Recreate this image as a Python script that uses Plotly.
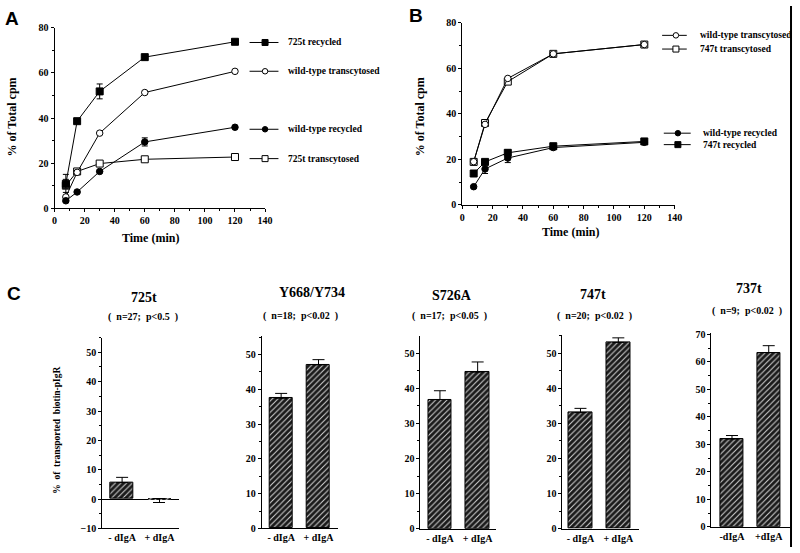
import plotly.graph_objects as go

W, H = 800, 553
def fx(p): return p / W
def fy(p): return 1 - p / H

# ---------------- data ----------------
time_min = [7.5, 15, 30, 60, 120]

# Panel A
a_725t_recycled = [10.8, 38.6, 51.8, 67.0, 73.8]
a_725t_recycled_err = [2.0, 0.0, 3.3, 0.0, 0.0]
a_wt_transcytosed = [5.0, 15.9, 33.3, 51.3, 60.7]
a_wt_transcytosed_err = [2.0, 0.0, 0.0, 0.0, 0.0]
a_wt_recycled = [3.3, 7.2, 16.3, 29.4, 35.9]
a_wt_recycled_err = [0.5, 0.0, 0.0, 1.8, 0.0]
a_725t_transcytosed = [10.0, 16.3, 19.8, 21.7, 22.7]
a_725t_transcytosed_err = [5.0, 0.0, 0.0, 0.0, 0.0]

# Panel B
b_wt_transcytosed = [19.0, 35.4, 55.6, 66.4, 70.5]
b_747t_transcytosed = [18.9, 36.0, 54.2, 66.4, 70.5]
b_wt_recycled = [8.0, 15.8, 20.6, 25.2, 27.5]
b_wt_recycled_err = [0.5, 2.0, 2.0, 0.8, 0.8]
b_747t_recycled = [13.8, 18.9, 22.9, 25.8, 27.9]
b_747t_recycled_err = [0.5, 0.8, 1.2, 1.0, 0.8]

# Panel C
c_groups = ["725t", "Y668/Y734", "S726A", "747t", "737t"]
c_stats = ["n=27;  p&lt;0.5", "n=18;  p&lt;0.02", "n=17;  p&lt;0.05", "n=20;  p&lt;0.02", "n=9;  p&lt;0.02"]
c_minus = [5.6, 37.4, 36.8, 33.1, 31.9]
c_plus = [0.3, 47.0, 44.6, 53.1, 63.4]
c_minus_err = [1.8, 1.4, 2.5, 1.2, 1.3]
c_plus_err = [1.4, 1.5, 2.9, 1.3, 2.5]
c_plus_err_down = [True, False, False, False, False]
c_ticklabels = [["- dIgA", "+ dIgA"]] * 4 + [["-dIgA", "+dIgA"]]

# ---------------- figure ----------------
fig = go.Figure()
SERIF = "Liberation Serif"
SANS = "Liberation Sans"
tickf = dict(family=SERIF, size=10, color="black", weight="bold")

def line_trace(x, y, err, symbol, xa, ya, fill=True):
    return go.Scatter(
        x=x, y=y, mode="lines+markers", xaxis=xa, yaxis=ya,
        line=dict(color="black", width=1),
        marker=dict(symbol=symbol, size=7 if symbol == "square" else 6.5,
                    color="black" if fill else "white",
                    line=dict(color="black", width=1)),
        error_y=dict(type="data", array=err, visible=err is not None,
                     color="black", thickness=1, width=3),
        showlegend=False, hoverinfo="skip")

# Panel A
fig.add_trace(line_trace(time_min, a_725t_transcytosed, a_725t_transcytosed_err, "square", "x", "y", False))
fig.add_trace(line_trace(time_min, a_wt_transcytosed, a_wt_transcytosed_err, "circle", "x", "y", False))
fig.add_trace(line_trace(time_min, a_wt_recycled, a_wt_recycled_err, "circle", "x", "y"))
fig.add_trace(line_trace(time_min, a_725t_recycled, a_725t_recycled_err, "square", "x", "y"))

# Panel B
fig.add_trace(line_trace(time_min, b_wt_recycled, b_wt_recycled_err, "circle", "x2", "y2"))
fig.add_trace(line_trace(time_min, b_747t_recycled, b_747t_recycled_err, "square", "x2", "y2"))
fig.add_trace(line_trace(time_min, b_747t_transcytosed, None, "square", "x2", "y2", False))
fig.add_trace(line_trace(time_min, b_wt_transcytosed, None, "circle", "x2", "y2", False))

def axis_common():
    return dict(showline=True, linecolor="black", linewidth=1, showgrid=False,
                zeroline=False, ticks="outside", ticklen=3, tickcolor="black",
                tickfont=tickf)

layout = dict(width=W, height=H, margin=dict(l=0, r=0, t=0, b=0),
              paper_bgcolor="white", plot_bgcolor="rgba(0,0,0,0)", showlegend=False)

# A axes
layout["xaxis"] = dict(axis_common(), domain=[fx(52.3), fx(265.7)], range=[0, 140], anchor="y",
                       tickvals=[0, 20, 40, 60, 80, 100, 120, 140],
                       minor=dict(ticks="outside", ticklen=2, dtick=10, tickcolor="black"))
layout["yaxis"] = dict(axis_common(), domain=[fy(206.7), fy(22.3)], range=[0, 80], anchor="x",
                       tickvals=[0, 20, 40, 60, 80],
                       minor=dict(ticks="outside", ticklen=2, dtick=10, tickcolor="black"))
# B axes
layout["xaxis2"] = dict(axis_common(), domain=[fx(465.7), fx(681)], range=[0, 140], anchor="y2",
                        tickvals=[0, 20, 40, 60, 80, 100, 120, 140],
                        minor=dict(ticks="outside", ticklen=2, dtick=10, tickcolor="black"))
layout["yaxis2"] = dict(axis_common(), domain=[fy(203.3), fy(17.3)], range=[0, 80], anchor="x2",
                        tickvals=[0, 20, 40, 60, 80],
                        minor=dict(ticks="outside", ticklen=2, dtick=10, tickcolor="black"))

# C axes geometry (pixel domains, ranges)
c_xdom = [(100.7, 178.3), (262.3, 340.0), (423.3, 500.0), (567.3, 645.0), (718.3, 798.0)]
c_xrange = [(-0.53, 1.52), (-0.52, 1.53), (-0.516, 1.49), (-0.475, 1.55), (-0.56, 1.58)]
c_ydom = [(339.0, 534.0), (337.3, 534.0), (337.3, 534.3), (336.7, 534.3), (334.3, 532.3)]
c_yrange = [(-10, 55), (0, 55.3), (0, 54.9), (0, 55.1), (0, 70.5)]
c_ytick = [[-10, 0, 10, 20, 30, 40, 50], [0, 10, 20, 30, 40, 50], [0, 10, 20, 30, 40, 50],
           [0, 10, 20, 30, 40, 50], [0, 10, 20, 30, 40, 50, 60, 70]]

pattern = dict(shape="/", fgcolor="#cfcfcf", bgcolor="#1a1a1a", size=4, solidity=0.27, fillmode="replace")

for i in range(5):
    xa, ya = f"x{i+3}", f"y{i+3}"
    fig.add_trace(go.Bar(x=[0], y=[c_minus[i]], width=0.62, xaxis=xa, yaxis=ya,
                         marker=dict(color="#262626", pattern=pattern, line=dict(color="black", width=1)),
                         error_y=dict(type="data", symmetric=False, array=[c_minus_err[i]], arrayminus=[0],
                                      color="black", thickness=1, width=6),
                         hoverinfo="skip"))
    up = 0 if c_plus_err_down[i] else c_plus_err[i]
    dn = c_plus_err[i] if c_plus_err_down[i] else 0
    fig.add_trace(go.Bar(x=[1], y=[c_plus[i]], width=0.62, xaxis=xa, yaxis=ya,
                         marker=dict(color="#262626", pattern=pattern, line=dict(color="black", width=1 if c_plus[i] > 1 else 0)),
                         error_y=dict(type="data", symmetric=False, array=[up], arrayminus=[dn],
                                      color="black", thickness=1, width=6),
                         hoverinfo="skip"))
    layout[f"xaxis{i+3}"] = dict(axis_common(), domain=[fx(c_xdom[i][0]), fx(c_xdom[i][1])],
                                 range=list(c_xrange[i]), anchor=ya, ticks="",
                                 tickvals=[0, 1], ticktext=c_ticklabels[i],
                                 tickfont=dict(family=SERIF, size=10, color="black", weight="bold"))
    layout[f"yaxis{i+3}"] = dict(axis_common(), domain=[fy(c_ydom[i][1]), fy(c_ydom[i][0])],
                                 range=list(c_yrange[i]), anchor=xa, tickvals=c_ytick[i],
                                 zeroline=(i == 0), zerolinecolor="black", zerolinewidth=1,
                                 minor=dict(ticks="outside", ticklen=2, dtick=5, tickcolor="black"))

# overlay pixel axis for legend glyphs
layout["xaxis8"] = dict(domain=[0, 1], range=[0, W], visible=False, fixedrange=True, anchor="y8")
layout["yaxis8"] = dict(domain=[0, 1], range=[H, 0], visible=False, fixedrange=True, anchor="x8")

legend_items = [
    # (x0, x1, xm, y, symbol, filled, label, textx)
    (250, 279.3, 265.7, 37.3, "square", True, "725t recycled", 286.7),
    (250, 279.3, 265.7, 66.7, "circle", False, "wild-type transcytosed", 286.7),
    (250, 279.3, 265.7, 126.0, "circle", True, "wild-type recycled", 286.7),
    (250, 279.3, 265.7, 156.0, "square", False, "725t transcytosed", 286.7),
    (668.3, 693.3, 682.3, 30.0, "circle", False, "wild-type transcytosed", 705.0),
    (668.3, 693.3, 682.3, 44.0, "square", False, "747t transcytosed", 705.0),
    (670.0, 697.3, 684.3, 130.0, "circle", True, "wild-type recycled", 707.7),
    (670.0, 697.3, 684.3, 141.7, "square", True, "747t recycled", 707.7),
]
annotations = []
for x0, x1, xm, y, sym, filled, label, tx in legend_items:
    fig.add_trace(go.Scatter(x=[x0, x1], y=[y, y], mode="lines", xaxis="x8", yaxis="y8",
                             line=dict(color="black", width=1), hoverinfo="skip"))
    fig.add_trace(go.Scatter(x=[xm], y=[y], mode="markers", xaxis="x8", yaxis="y8",
                             marker=dict(symbol=sym, size=6 if sym == "square" else 5.5,
                                         color="black" if filled else "white",
                                         line=dict(color="black", width=1)), hoverinfo="skip"))
    annotations.append(dict(x=fx(tx), y=fy(y), xref="paper", yref="paper", text=label,
                            showarrow=False, xanchor="left", yanchor="middle",
                            font=dict(family=SERIF, size=9.5, color="black", weight="bold")))

def txt(x, y, s, size, family=SERIF, angle=0):
    annotations.append(dict(x=fx(x), y=fy(y), xref="paper", yref="paper", text=s, showarrow=False,
                            xanchor="center", yanchor="middle", textangle=angle,
                            font=dict(family=family, size=size, color="black", weight="bold")))

txt(9, 12.5, "A", 19, SANS)
txt(419, 10, "B", 19, SANS)
txt(11, 293.5, "C", 19, SANS)
txt(9, 113, "% of Total cpm", 12, angle=-90)
txt(423, 113.5, "% of Total cpm", 12, angle=-90)
txt(150, 237, "Time (min)", 12)
txt(575, 230.7, "Time (min)", 12)
txt(54, 434, "%\u00a0 of\u00a0 transported\u00a0 biotin-pIgR", 9.5, angle=-90)

c_title_pos = [(143.3, 298.3), (313, 293.3), (455, 295.7), (598.3, 295), (756.7, 289)]
c_stat_pos = [(141.7, 317.7), (302, 317.3), (453, 317.3), (600, 317.3), (754.3, 311.7)]
for i in range(5):
    txt(c_title_pos[i][0], c_title_pos[i][1], c_groups[i], 14)
    txt(c_stat_pos[i][0], c_stat_pos[i][1], "(\u00a0\u00a0" + c_stats[i].replace("  ", "\u00a0\u00a0") + "\u00a0\u00a0)", 10)

layout["annotations"] = annotations
layout["shapes"] = [dict(type="line", xref="paper", yref="paper", x0=fx(799), x1=fx(799), y0=0, y1=1,
                         line=dict(color="black", width=2))]
layout["bargap"] = 0
fig.update_layout(**layout)
fig.write_html("out.html", config={"displayModeBar": False},
               post_script="document.body.style.margin='0';document.body.style.padding='0';document.body.style.overflow='hidden';")
